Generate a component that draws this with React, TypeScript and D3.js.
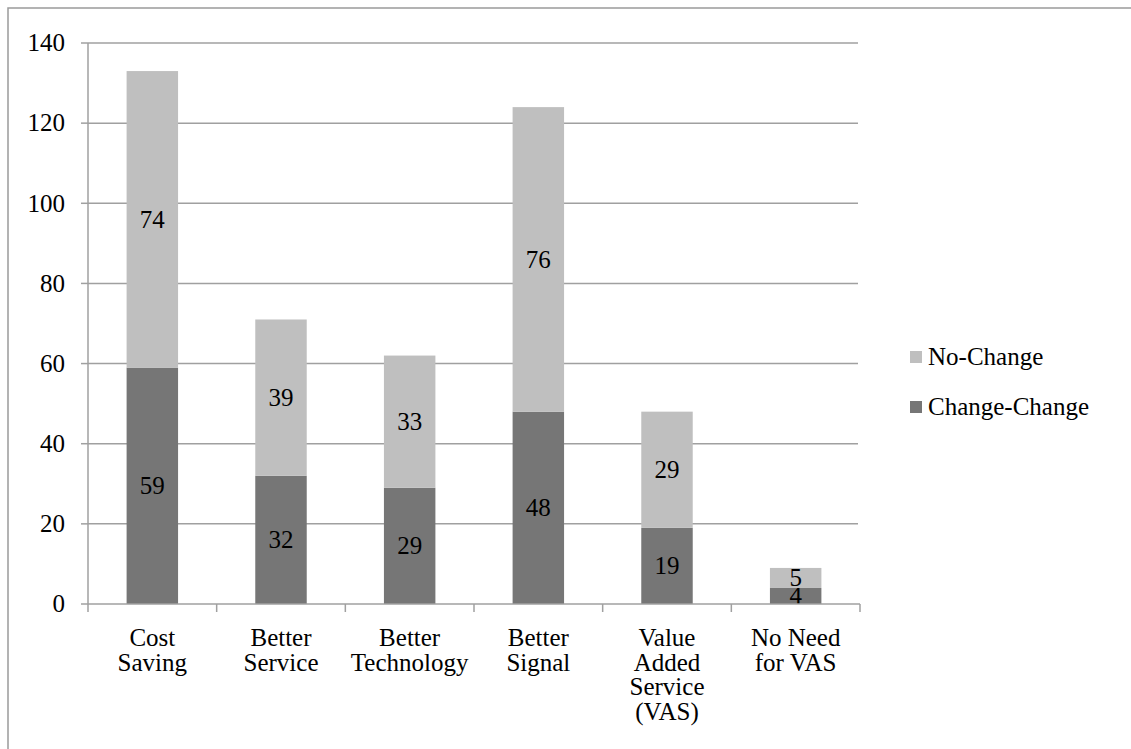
import React, { useEffect, useRef } from "react";
import * as d3 from "d3";

// --- data ---
const categories = ["Cost Saving", "Better Service", "Better Technology", "Better Signal", "Value Added Service (VAS)", "No Need for VAS"];
const categoryLines = [
  ["Cost", "Saving"],
  ["Better", "Service"],
  ["Better", "Technology"],
  ["Better", "Signal"],
  ["Value", "Added", "Service", "(VAS)"],
  ["No Need", "for VAS"],
];
const changeChange = [59, 32, 29, 48, 19, 4];
const noChange = [74, 39, 33, 76, 29, 5];
const seriesNames = ["No-Change", "Change-Change"];
const yTicks = [0, 20, 40, 60, 80, 100, 120, 140];

export default function App() {
  const svgRef = useRef<SVGSVGElement | null>(null);

  useEffect(() => {
    const width = 1131;
    const height = 749;
    const svg = d3.select(svgRef.current)
      .attr("width", width)
      .attr("height", height)
      .style("font-family", "'Liberation Serif', 'DejaVu Serif', 'Noto Serif', Tinos, 'Times New Roman', Times, serif");
    svg.selectAll("*").remove();

    const fontSize = 25;
    const lineColor = "#a0a0a0";
    const lightGray = "#bfbfbf";
    const darkGray = "#767676";

    // outer chart frame (only top/left visible)
    svg.append("rect")
      .attr("x", 8).attr("y", 8)
      .attr("width", 1200).attr("height", 800)
      .attr("fill", "none")
      .attr("stroke", "#9a9a9a")
      .attr("stroke-width", 1.5);

    const left = 88, right = 860, top = 43, bottom = 604;

    const x = d3.scaleBand<string>()
      .domain(categories)
      .range([left, right])
      .paddingInner(0.6)
      .paddingOuter(0.3);
    const y = d3.scaleLinear().domain([0, 140]).range([bottom, top]);

    // --- gridlines ---
    svg.append("g")
      .selectAll("line")
      .data(yTicks.filter(t => t > 0))
      .join("line")
      .attr("x1", left).attr("x2", right - 2)
      .attr("y1", d => y(d)).attr("y2", d => y(d))
      .attr("stroke", lineColor)
      .attr("stroke-width", 1.5);

    // --- y axis ---
    const yAxis = svg.append("g");
    yAxis.append("line")
      .attr("x1", left).attr("x2", left)
      .attr("y1", top).attr("y2", bottom)
      .attr("stroke", lineColor).attr("stroke-width", 1.5);
    yAxis.selectAll(".tick")
      .data(yTicks)
      .join("line")
      .attr("x1", left - 7).attr("x2", left)
      .attr("y1", d => y(d)).attr("y2", d => y(d))
      .attr("stroke", lineColor).attr("stroke-width", 1.5);
    yAxis.selectAll("text")
      .data(yTicks)
      .join("text")
      .attr("x", 65)
      .attr("y", d => y(d))
      .attr("dy", "0.33em")
      .attr("text-anchor", "end")
      .attr("font-size", fontSize)
      .attr("fill", "#000")
      .text(d => d);

    // --- bars ---
    const stackData = categories.map((c, i) => ({ cat: c, change: changeChange[i], nochange: noChange[i] }));
    const stack = d3.stack<any>().keys(["change", "nochange"])(stackData);
    const colors: Record<string, string> = { change: darkGray, nochange: lightGray };

    const layers = svg.append("g")
      .selectAll("g")
      .data(stack)
      .join("g")
      .attr("fill", d => colors[d.key]);

    layers.selectAll("rect")
      .data(d => d)
      .join("rect")
      .attr("x", d => x(d.data.cat)!)
      .attr("width", x.bandwidth())
      .attr("y", d => y(d[1]))
      .attr("height", d => y(d[0]) - y(d[1]));

    layers.selectAll("text")
      .data(d => d.map(p => ({ p, key: d.key })))
      .join("text")
      .attr("x", d => x(d.p.data.cat)! + x.bandwidth() / 2)
      .attr("y", d => (y(d.p[0]) + y(d.p[1])) / 2)
      .attr("dy", "0.33em")
      .attr("text-anchor", "middle")
      .attr("font-size", fontSize)
      .attr("fill", "#000")
      .text(d => d.p[1] - d.p[0]);

    // --- x axis ---
    const xAxis = svg.append("g");
    xAxis.append("line")
      .attr("x1", left).attr("x2", right)
      .attr("y1", bottom).attr("y2", bottom)
      .attr("stroke", lineColor).attr("stroke-width", 1.5);
    const step = x.step();
    const boundaries = d3.range(categories.length + 1).map(i => left + i * step);
    xAxis.selectAll(".tick")
      .data(boundaries)
      .join("line")
      .attr("x1", d => d).attr("x2", d => d)
      .attr("y1", bottom).attr("y2", bottom + 8)
      .attr("stroke", lineColor).attr("stroke-width", 1.5);

    const labels = xAxis.selectAll(".cat")
      .data(categories)
      .join("text")
      .attr("class", "cat")
      .attr("text-anchor", "middle")
      .attr("font-size", fontSize)
      .attr("fill", "#000");
    labels.each(function (c, i) {
      const t = d3.select(this);
      categoryLines[i].forEach((ln, j) => {
        t.append("tspan")
          .attr("x", x(c)! + x.bandwidth() / 2)
          .attr("y", 646 + j * 24.5)
          .text(ln);
      });
    });

    // --- legend ---
    const legend = svg.append("g").attr("transform", "translate(910,351)");
    const legendColors = [lightGray, darkGray];
    const items = legend.selectAll("g")
      .data(seriesNames)
      .join("g")
      .attr("transform", (d, i) => `translate(0,${i * 50})`);
    items.append("rect")
      .attr("width", 12).attr("height", 12)
      .attr("fill", (d, i) => legendColors[i]);
    items.append("text")
      .attr("x", 18)
      .attr("y", 6)
      .attr("dy", "0.33em")
      .attr("font-size", fontSize)
      .attr("fill", "#000")
      .text(d => d);
  }, []);

  return (
    <svg
      ref={svgRef}
      style={{ position: "absolute", left: 0, top: 0, background: "#fff", overflow: "hidden" }}
    ></svg>
  );
}
